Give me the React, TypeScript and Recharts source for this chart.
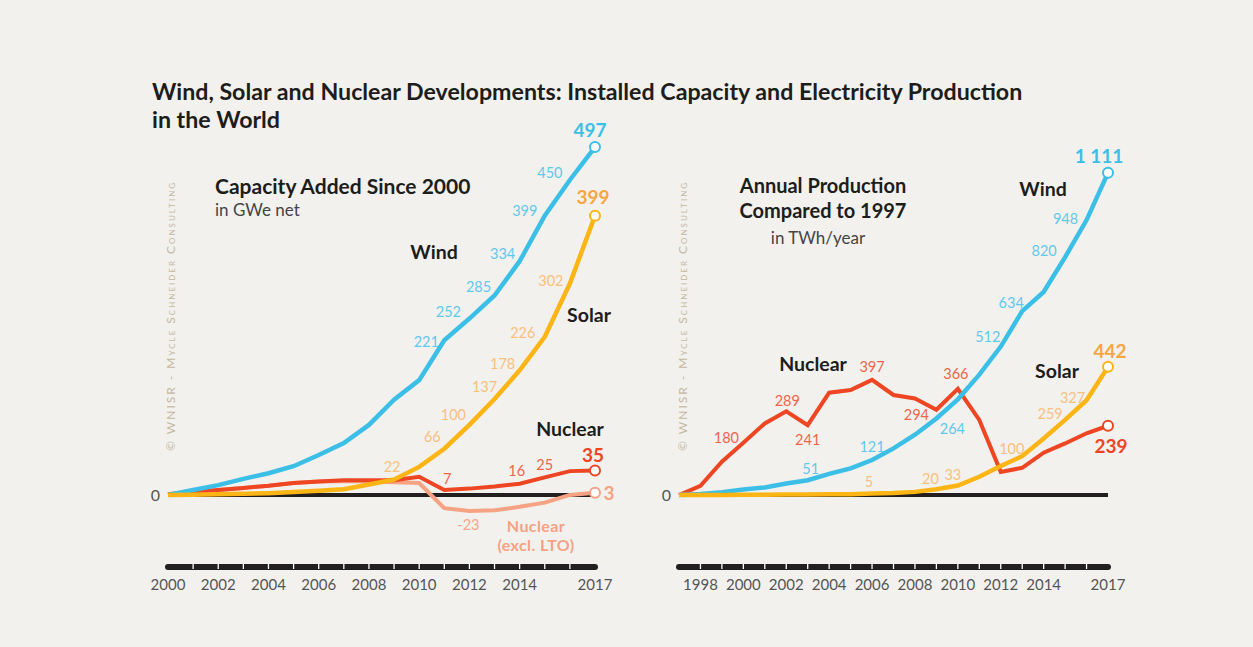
import React from "react";
import { LineChart, Line, XAxis, YAxis, ReferenceLine } from "recharts";

// capacity added since 2000, GWe net
const capacityYears = [2000, 2001, 2002, 2003, 2004, 2005, 2006, 2007, 2008, 2009, 2010, 2011, 2012, 2013, 2014, 2015, 2016, 2017];
const capacityWind = [0, 7, 14, 23, 31, 41, 57, 74, 100, 136, 164, 221, 252, 285, 334, 399, 450, 497];
const capacitySolar = [0, 0.3, 0.8, 1.5, 2.5, 4, 6, 8, 15, 22, 40, 66, 100, 137, 178, 226, 302, 399];
const capacityNuclear = [1, 4, 7, 10, 13, 17, 19, 21, 21, 21, 26, 7, 9, 12, 16, 25, 34, 35];
const capacityNuclearExclLto = [1, 4, 7, 10, 13, 17, 19, 20, 19, 18, 17, -19, -23, -22, -17, -11, 0, 3];
const capacityTickLabels = [2000, 2002, 2004, 2006, 2008, 2010, 2012, 2014, 2017];

// annual production compared to 1997, TWh/year
const productionYears = [1997, 1998, 1999, 2000, 2001, 2002, 2003, 2004, 2005, 2006, 2007, 2008, 2009, 2010, 2011, 2012, 2013, 2014, 2015, 2016, 2017];
const productionWind = [0, 4, 10, 19, 26, 40, 51, 73, 92, 121, 161, 208, 264, 330, 415, 512, 634, 700, 820, 948, 1111];
const productionSolar = [0, 0, 0.5, 1, 1, 2, 2, 3, 3, 5, 7, 11, 20, 33, 63, 100, 134, 195, 259, 327, 442];
const productionNuclear = [0, 32, 115, 180, 247, 289, 241, 353, 362, 397, 345, 333, 294, 366, 259, 80, 94, 146, 178, 213, 239];
const productionTickLabels = [1998, 2000, 2002, 2004, 2006, 2008, 2010, 2012, 2014, 2017];

const capacityRows = capacityYears.map((year, i) => ({
  year,
  wind: capacityWind[i],
  solar: capacitySolar[i],
  nuclear: capacityNuclear[i],
  nuclearExcl: capacityNuclearExclLto[i],
}));

const productionRows = productionYears.map((year, i) => ({
  year,
  wind: productionWind[i],
  solar: productionSolar[i],
  nuclear: productionNuclear[i],
}));

const WIND = "#3cbfe6";
const WIND_LABEL = "#5fc9ec";
const SOLAR = "#fdb515";
const SOLAR_LABEL = "#f8c07e";
const SOLAR_END = "#f8a641";
const NUCLEAR = "#ee4523";
const NUCLEAR_LABEL = "#f0644a";
const EXCL = "#f7a283";
const EXCL_LABEL = "#f5a688";
const INK = "#1d1d1b";
const FONT = "Lato, 'Open Sans', sans-serif";

type Tag = { i: number; dx: number; dy: number; bold?: boolean };

const fmt = (v: number) => String(v).replace(/\B(?=(\d{3})+(?!\d))/g, " ");

// value labels + end markers, drawn at the points the line gives us
function pointMarks(values: number[], tags: Tag[], color: string, labelColor: string, endColor: string) {
  const last = values.length - 1;
  return (p: any) => {
    const { cx, cy, index } = p;
    const tag = tags.find((t) => t.i === index);
    return (
      <g key={`pt-${index}`}>
        {tag && (
          <text
            x={cx + tag.dx}
            y={cy + tag.dy}
            textAnchor="middle"
            dominantBaseline="central"
            fill={tag.bold ? endColor : labelColor}
            fontSize={tag.bold ? 19 : 14.5}
            fontWeight={tag.bold ? 700 : 400}
            fontFamily={FONT}
          >
            {fmt(values[index])}
          </text>
        )}
        {index === last && <circle cx={cx} cy={cy} r={5} fill="#fff" stroke={color} strokeWidth={2} />}
      </g>
    );
  };
}

function yearTick(labelled: number[], first: number, last: number) {
  return (p: any) => {
    const { x, y, payload } = p;
    const yr = payload.value;
    return (
      <g>
        {yr !== first && yr !== last && <line x1={x} x2={x} y1={y - 3} y2={y + 2} stroke="#fff" strokeWidth={1.3} />}
        {labelled.includes(yr) && (
          <text x={x} y={y + 23} textAnchor="middle" fill="#555" fontSize={15} fontFamily={FONT}>
            {yr}
          </text>
        )}
      </g>
    );
  };
}

const windTagsL: Tag[] = [
  { i: 11, dx: -18, dy: 1 }, { i: 12, dx: -21, dy: -7 }, { i: 13, dx: -16, dy: -9 },
  { i: 14, dx: -17, dy: -8 }, { i: 15, dx: -20, dy: -5 }, { i: 16, dx: -20, dy: -7 },
  { i: 17, dx: -5, dy: -18, bold: true },
];
const solarTagsL: Tag[] = [
  { i: 9, dx: -2, dy: -13 }, { i: 11, dx: -12, dy: -12 }, { i: 12, dx: -16, dy: -10 },
  { i: 13, dx: -10, dy: -13 }, { i: 14, dx: -17, dy: -7 }, { i: 15, dx: -22, dy: -4 },
  { i: 16, dx: -19, dy: -3 }, { i: 17, dx: -2, dy: -19, bold: true },
];
const nuclearTagsL: Tag[] = [
  { i: 11, dx: 3, dy: -12 }, { i: 14, dx: -3, dy: -13 }, { i: 15, dx: 0, dy: -13 },
  { i: 17, dx: -2, dy: -16, bold: true },
];
const exclTagsL: Tag[] = [{ i: 12, dx: -1, dy: 13 }, { i: 17, dx: 14, dy: 0, bold: true }];

const windTagsR: Tag[] = [
  { i: 6, dx: 3, dy: -12 }, { i: 9, dx: 0, dy: -13 }, { i: 12, dx: 16, dy: 10 },
  { i: 15, dx: -13, dy: -10 }, { i: 16, dx: -11, dy: -9 }, { i: 18, dx: -21, dy: -7 },
  { i: 19, dx: -21, dy: -2 }, { i: 20, dx: -9, dy: -17, bold: true },
];
const solarTagsR: Tag[] = [
  { i: 9, dx: -3, dy: -12 }, { i: 12, dx: -6, dy: -11 }, { i: 13, dx: -5, dy: -11 },
  { i: 15, dx: 11, dy: -18 }, { i: 18, dx: -15, dy: -6 }, { i: 19, dx: -14, dy: -3 },
  { i: 20, dx: 2, dy: -16, bold: true },
];
const nuclearTagsR: Tag[] = [
  { i: 3, dx: -17, dy: -5 }, { i: 5, dx: 1, dy: -11 }, { i: 6, dx: 0, dy: 14 },
  { i: 9, dx: 0, dy: -13 }, { i: 12, dx: -20, dy: 5 }, { i: 13, dx: -2, dy: -15 },
  { i: 20, dx: 3, dy: 20, bold: true },
];

function Note({ x, y, children, style }: { x: number; y: number; children: React.ReactNode; style?: React.CSSProperties }) {
  return (
    <div
      style={{
        position: "absolute",
        left: x,
        top: y,
        transform: "translate(-50%, -50%)",
        whiteSpace: "nowrap",
        fontFamily: FONT,
        ...style,
      }}
    >
      {children}
    </div>
  );
}

const nameStyle: React.CSSProperties = { fontSize: 19.5, fontWeight: 700, color: INK };
const subStyle: React.CSSProperties = { fontSize: 20, fontWeight: 700, color: INK, textAlign: "center", lineHeight: "25px" };
const unitStyle: React.CSSProperties = { fontSize: 17, color: "#444" };

function Watermark({ x }: { x: number }) {
  return (
    <Note
      x={x}
      y={316}
      style={{
        transform: "translate(-50%, -50%) rotate(-90deg)",
        fontSize: 12,
        letterSpacing: 2,
        color: "#c4b79f",
        fontVariant: "small-caps",
      }}
    >
      © WNISR - Mycle Schneider Consulting
    </Note>
  );
}

const axisBar = { stroke: "#231f20", strokeWidth: 6, strokeLinecap: "round" as const };

export default function App() {
  return (
    <div style={{ position: "absolute", left: 0, top: 0, width: 1253, height: 647, background: "#f2f1ee", overflow: "hidden" }}>
      <div style={{ position: "absolute", left: 152, top: 77, fontFamily: FONT, fontWeight: 700, fontSize: 23.2, lineHeight: "28px", color: INK }}>
        Wind, Solar and Nuclear Developments: Installed Capacity and Electricity Production
        <br />
        in the World
      </div>

      <Watermark x={170} />
      <Watermark x={682} />

      <div style={{ position: "absolute", left: 100, top: 100 }}>
        <LineChart width={560} height={520} data={capacityRows} margin={{ top: 45, right: 65, bottom: 23, left: 38 }}>
          <XAxis
            dataKey="year"
            type="number"
            domain={[2000, 2017]}
            ticks={capacityYears}
            interval={0}
            height={30}
            tickSize={0}
            tickMargin={0}
            tickLine={false}
            axisLine={axisBar}
            tick={yearTick(capacityTickLabels, 2000, 2017)}
          />
          <YAxis
            type="number"
            domain={[-103, 500]}
            ticks={[0]}
            width={30}
            axisLine={false}
            tickLine={false}
            tickSize={0}
            tickMargin={8}
            tick={{ fill: "#555", fontSize: 16, fontFamily: FONT }}
          />
          <ReferenceLine y={0} stroke="#231f20" strokeWidth={4} />
          <Line dataKey="nuclearExcl" stroke={EXCL} strokeWidth={4} type="linear" isAnimationActive={false} activeDot={false}
            dot={pointMarks(capacityNuclearExclLto, exclTagsL, EXCL, EXCL_LABEL, EXCL)} />
          <Line dataKey="nuclear" stroke={NUCLEAR} strokeWidth={4} type="linear" isAnimationActive={false} activeDot={false}
            dot={pointMarks(capacityNuclear, nuclearTagsL, NUCLEAR, NUCLEAR_LABEL, NUCLEAR)} />
          <Line dataKey="wind" stroke={WIND} strokeWidth={4.5} type="linear" isAnimationActive={false} activeDot={false}
            dot={pointMarks(capacityWind, windTagsL, WIND, WIND_LABEL, WIND)} />
          <Line dataKey="solar" stroke={SOLAR} strokeWidth={4.5} type="linear" isAnimationActive={false} activeDot={false}
            dot={pointMarks(capacitySolar, solarTagsL, SOLAR, SOLAR_LABEL, SOLAR_END)} />
        </LineChart>
      </div>

      <div style={{ position: "absolute", left: 620, top: 100 }}>
        <LineChart width={560} height={520} data={productionRows} margin={{ top: 47, right: 72, bottom: 23, left: 29 }}>
          <XAxis
            dataKey="year"
            type="number"
            domain={[1997, 2017]}
            ticks={productionYears}
            interval={0}
            height={30}
            tickSize={0}
            tickMargin={0}
            tickLine={false}
            axisLine={axisBar}
            tick={yearTick(productionTickLabels, 1997, 2017)}
          />
          <YAxis
            type="number"
            domain={[-248, 1200]}
            ticks={[0]}
            width={30}
            axisLine={false}
            tickLine={false}
            tickSize={0}
            tickMargin={8}
            tick={{ fill: "#555", fontSize: 16, fontFamily: FONT }}
          />
          <ReferenceLine y={0} stroke="#231f20" strokeWidth={4} />
          <Line dataKey="nuclear" stroke={NUCLEAR} strokeWidth={4} type="linear" isAnimationActive={false} activeDot={false}
            dot={pointMarks(productionNuclear, nuclearTagsR, NUCLEAR, NUCLEAR_LABEL, NUCLEAR)} />
          <Line dataKey="wind" stroke={WIND} strokeWidth={4.5} type="linear" isAnimationActive={false} activeDot={false}
            dot={pointMarks(productionWind, windTagsR, WIND, WIND_LABEL, WIND)} />
          <Line dataKey="solar" stroke={SOLAR} strokeWidth={4.5} type="linear" isAnimationActive={false} activeDot={false}
            dot={pointMarks(productionSolar, solarTagsR, SOLAR, SOLAR_LABEL, SOLAR_END)} />
        </LineChart>
      </div>

      {/* left panel notes */}
      <div style={{ position: "absolute", left: 215, top: 172, fontFamily: FONT }}>
        <div style={{ fontSize: 21, fontWeight: 700, color: INK, lineHeight: "27px" }}>Capacity Added Since 2000</div>
        <div style={{ ...unitStyle, lineHeight: "22px" }}>in GWe net</div>
      </div>
      <Note x={434} y={251} style={nameStyle}>Wind</Note>
      <Note x={589} y={314} style={nameStyle}>Solar</Note>
      <Note x={570} y={428} style={nameStyle}>Nuclear</Note>
      <Note x={536} y={535} style={{ fontSize: 16, fontWeight: 700, color: EXCL, textAlign: "center", lineHeight: "19px", letterSpacing: 0.4 }}>
        Nuclear
        <br />
        (excl. LTO)
      </Note>

      {/* right panel notes */}
      <Note x={823} y={198} style={subStyle}>
        Annual Production
        <br />
        Compared to 1997
      </Note>
      <Note x={818} y={237} style={unitStyle}>in TWh/year</Note>
      <Note x={1043} y={188} style={nameStyle}>Wind</Note>
      <Note x={813} y={363} style={nameStyle}>Nuclear</Note>
      <Note x={1057} y={370} style={nameStyle}>Solar</Note>
    </div>
  );
}
